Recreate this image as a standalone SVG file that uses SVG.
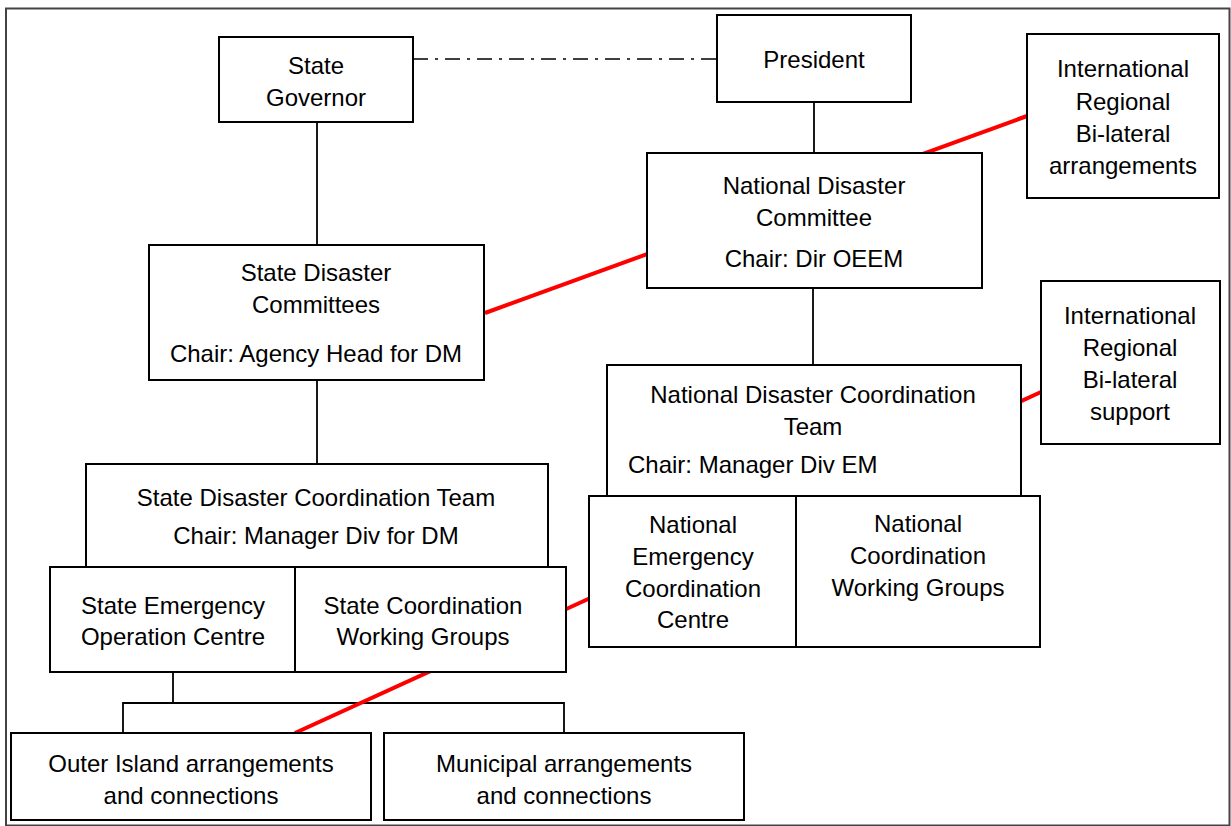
<svg xmlns="http://www.w3.org/2000/svg" width="1231" height="826" viewBox="0 0 1231 826">
<style>
.box{fill:#fff;stroke:#000;stroke-width:2}
.ln{stroke:#000;stroke-width:1.8;fill:none}
.red{stroke:#ff0000;stroke-width:4;fill:none}
.dd{stroke:#000;stroke-width:1.5;fill:none;stroke-dasharray:15 7 3 7}
text{font-family:"Liberation Sans",Arial,sans-serif;font-size:24px;fill:#000;text-anchor:middle}
.l{text-anchor:start}
</style>
<rect x="0" y="0" width="1231" height="826" fill="#fff"/>
<rect x="6" y="8.5" width="1223.5" height="817" fill="none" stroke="#444" stroke-width="2"/>
<g id="connectors">
<line class="dd" x1="413" y1="59" x2="717" y2="59"/>
<line class="ln" x1="814" y1="102" x2="814" y2="153"/>
<line class="ln" x1="317" y1="122" x2="317" y2="245"/>
<line class="ln" x1="317" y1="380" x2="317" y2="464"/>
<line class="ln" x1="813" y1="288" x2="813" y2="365"/>
<polyline class="ln" points="173,672 173,703"/>
<polyline class="ln" points="123,733 123,703 564,703 564,733"/>
<line class="red" x1="1027" y1="116" x2="485" y2="313"/>
<line class="red" x1="1041" y1="392" x2="295" y2="733"/>
</g>
<g id="state-governor">
<rect class="box" x="219" y="37" width="194" height="85"/>
<text x="316" y="74">State</text>
<text x="316" y="106">Governor</text>
</g>
<g id="president">
<rect class="box" x="717" y="15" width="194" height="87"/>
<text x="814" y="68">President</text>
</g>
<g id="intl-arrangements">
<rect class="box" x="1027" y="34" width="192" height="164"/>
<text x="1123" y="77">International</text>
<text x="1123" y="109.5">Regional</text>
<text x="1123" y="142">Bi-lateral</text>
<text x="1123" y="173.5">arrangements</text>
</g>
<g id="national-disaster-committee">
<rect class="box" x="647" y="153" width="335" height="135"/>
<text x="814" y="194">National Disaster</text>
<text x="814" y="226">Committee</text>
<text x="814" y="267">Chair: Dir OEEM</text>
</g>
<g id="state-disaster-committees">
<rect class="box" x="149" y="245" width="335" height="135"/>
<text x="316" y="281">State Disaster</text>
<text x="316" y="313">Committees</text>
<text x="316" y="362">Chair: Agency Head for DM</text>
</g>
<g id="national-disaster-coordination-team">
<rect class="box" x="607" y="365" width="414" height="131"/>
<text x="813" y="403">National Disaster Coordination</text>
<text x="813" y="435">Team</text>
<text class="l" x="628" y="473">Chair: Manager Div EM</text>
</g>
<g id="intl-support">
<rect class="box" x="1041" y="281" width="179" height="163"/>
<text x="1130" y="324">International</text>
<text x="1130" y="356">Regional</text>
<text x="1130" y="388">Bi-lateral</text>
<text x="1130" y="420">support</text>
</g>
<g id="national-ecc">
<rect class="box" x="589" y="496" width="207" height="151"/>
<text x="693" y="533">National</text>
<text x="693" y="565">Emergency</text>
<text x="693" y="597">Coordination</text>
<text x="693" y="628">Centre</text>
</g>
<g id="national-cwg">
<rect class="box" x="796" y="496" width="244" height="151"/>
<text x="918" y="532">National</text>
<text x="918" y="564">Coordination</text>
<text x="918" y="596">Working Groups</text>
</g>
<g id="state-disaster-coordination-team">
<rect class="box" x="86" y="464" width="462" height="103"/>
<text x="316" y="506">State Disaster Coordination Team</text>
<text x="316" y="544">Chair: Manager Div for DM</text>
</g>
<g id="state-eoc">
<rect class="box" x="50" y="567" width="245" height="105"/>
<text x="173" y="614">State Emergency</text>
<text x="173" y="645">Operation Centre</text>
</g>
<g id="state-cwg">
<rect class="box" x="295" y="567" width="271" height="105"/>
<text x="423" y="614">State Coordination</text>
<text x="423" y="645">Working Groups</text>
</g>
<g id="outer-island">
<rect class="box" x="11" y="733" width="360" height="87"/>
<text x="191" y="772">Outer Island arrangements</text>
<text x="191" y="804">and connections</text>
</g>
<g id="municipal">
<rect class="box" x="384" y="733" width="360" height="87"/>
<text x="564" y="772">Municipal arrangements</text>
<text x="564" y="804">and connections</text>
</g>
</svg>
